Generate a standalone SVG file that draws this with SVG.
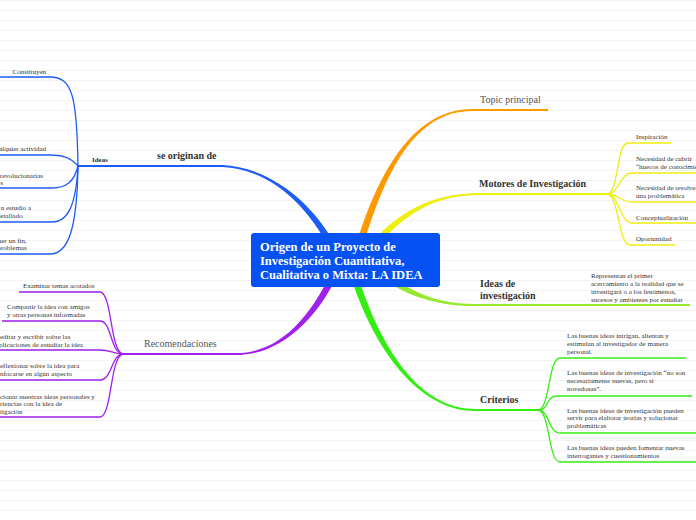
<svg xmlns="http://www.w3.org/2000/svg" width="696" height="520" viewBox="0 0 696 520">
<defs>
<pattern id="grid" width="696" height="10" patternUnits="userSpaceOnUse">
<rect x="0" y="0" width="696" height="1" fill="#f3f3f3"/>
</pattern>
<style>
text{font-family:"Liberation Serif","Times New Roman",serif}
.s{font-size:7px;fill:#333}
.r{font-size:10px;fill:#555}
.b{font-size:10px;font-weight:bold;fill:#333}
.c{font-size:12.5px;font-weight:bold;fill:#fff}
.sub{fill:none;stroke-width:1.3}
.h{fill:none;stroke-width:1.8}
.bl{stroke:#1d5cf5}.pu{stroke:#a020f0}.or{stroke:#ff9900}.ye{stroke:#eeee10}.lg{stroke:#99e830}.gr{stroke:#33ee11}
</style>
</defs>
<rect width="696" height="520" fill="#fff"/>
<rect width="696" height="520" fill="url(#grid)"/>

<g id="connectors">
<path fill="#ff9900" d="M351.6,261.1 C376.6,169.1 415,109 472,109 L472,111 C415,111 383.4,170.9 358.4,262.9 Z"/>
<path class="h or" d="M470,110 H548"/>
<path fill="#eeee10" d="M357.2,259.9 C392.2,212.9 430,193 480,193 L480,195 C430,195 397.8,217.1 362.8,264.1 Z"/>
<path class="h ye" d="M478,194 H607"/>
<path fill="#1d5cf5" d="M343.2,260.6 C318.2,203.6 270,167 222,165 L222,167 C270,169 311.8,206.4 336.8,263.4 Z"/>
<path class="h bl" d="M224,166 H78" stroke-width="2"/>
<path fill="#a020f0" d="M336.8,260.6 C311.8,318.6 280,351 240,353 L240,355 C280,353 318.2,321.4 343.2,263.4 Z"/>
<path class="h pu" d="M242,354 H123"/>
<path fill="#33ee11" d="M346.6,263 C371.6,351 420,411 475,411 L475,409 C420,409 378.4,349 353.4,261 Z"/>
<path class="h gr" d="M473,410 H538"/>
<path fill="#99e830" d="M362.8,264.7 C397.8,292.7 430,306 475,306 L475,304 C430,304 402.2,287.3 367.2,259.3 Z"/>
<path class="h lg" d="M470,305 H690" stroke-width="2"/>

<path class="sub ye" d="M607,194 C619,194 616,143 628,143 H671"/>
<path class="sub ye" d="M607,194 C619,194 620,173 632,173 H696"/>
<path class="sub ye" d="M607,194 C619,194 620,202 632,202 H696"/>
<path class="sub ye" d="M607,194 C619,194 620,223 632,223 H696"/>
<path class="sub ye" d="M607,194 C619,194 618,245 630,245 H675"/>

<path class="sub bl" d="M78,166 C77,95 72,77 50,77 H0"/>
<path class="sub bl" d="M78,166 C70,157 62,155 50,155 H0"/>
<path class="sub bl" d="M78,166 C74,182 66,188 52,188 H0"/>
<path class="sub bl" d="M78,166 C76,205 68,222 52,222 H0"/>
<path class="sub bl" d="M78,166 C77,230 68,254 50,254 H0"/>

<path class="sub pu" d="M123,354 C110,352 112,292 100,292 H19"/>
<path class="sub pu" d="M123,354 C110,353 112,321 100,321 H2"/>
<path class="sub pu" d="M123,354 C112,353 110,350 100,350 H0"/>
<path class="sub pu" d="M123,354 C111,355 112,380 100,380 H0"/>
<path class="sub pu" d="M123,354 C110,356 112,417 100,417 H0"/>

<path class="sub gr" d="M538,410 C550,410 548,358 560,358 H686"/>
<path class="sub gr" d="M538,410 C550,410 545,396 557,396 H692"/>
<path class="sub gr" d="M538,410 C550,410 548,433 560,433 H696"/>
<path class="sub gr" d="M538,410 C550,410 548,462 560,462 H696"/>
</g>

<g id="center">
<rect x="251" y="233" width="189" height="54" rx="3" fill="#0551f2"/>
<text class="c" x="260" y="251">Origen de un Proyecto de</text>
<text class="c" x="260" y="265">Investigación Cuantitativa,</text>
<text class="c" x="260" y="279">Cualitativa o Mixta: LA IDEA</text>
</g>

<g id="topic-principal"><text class="r" x="480" y="102.5">Topic principal</text></g>

<g id="motores"><text class="b" x="479" y="187">Motores de Investigación</text></g>
<g id="inspiracion"><text class="s" x="636" y="138.5">Inspiración</text></g>
<g id="cubrir"><text class="s" x="636" y="160.5">Necesidad de cubrir</text><text class="s" x="636" y="168.5">“huecos de conocimie</text></g>
<g id="resolver"><text class="s" x="636" y="189.5">Necesidad de resolver</text><text class="s" x="636" y="197.5">una problemática</text></g>
<g id="conceptualizacion"><text class="s" x="636" y="219.5">Conceptualización</text></g>
<g id="oportunidad"><text class="s" x="636" y="240.5">Oportunidad</text></g>

<g id="ideas-investigacion">
<text class="b" x="480" y="287">Ideas de</text>
<text class="b" x="480" y="298.5">investigación</text>
</g>
<g id="representan">
<text class="s" x="591" y="277.5">Representan el primer</text>
<text class="s" x="591" y="285.5">acercamiento a la realidad que se</text>
<text class="s" x="591" y="293.5">investigará o a los fenómenos,</text>
<text class="s" x="591" y="301.5">sucesos y ambientes por estudiar</text>
</g>

<g id="criterios"><text class="b" x="480" y="402.5">Criterios</text></g>
<g id="crit1">
<text class="s" x="567" y="337.5">Las buenas ideas intrigan, alientan y</text>
<text class="s" x="567" y="345.7">estimulan al investigador de manera</text>
<text class="s" x="567" y="353.9">personal.</text>
</g>
<g id="crit2">
<text class="s" x="567" y="375">Las buenas ideas de investigación “no son</text>
<text class="s" x="567" y="383.2">necesariamente nuevas, pero sí</text>
<text class="s" x="567" y="391.4">novedosas”.</text>
</g>
<g id="crit3">
<text class="s" x="567" y="412.5">Las buenas ideas de investigación pueden</text>
<text class="s" x="567" y="420.3">servir para elaborar teorías y solucionar</text>
<text class="s" x="567" y="428.1">problemáticas</text>
</g>
<g id="crit4">
<text class="s" x="567" y="450">Las buenas ideas pueden fomentar nuevas</text>
<text class="s" x="567" y="458">interrogantes y cuestionamientos</text>
</g>

<g id="se-originan-de"><text class="b" x="157" y="158.5">se originan de</text></g>
<g id="ideas"><text class="b" x="92" y="161.5" style="font-size:7px">Ideas</text></g>
<g id="constituyen"><text class="s" x="12.5" y="73.5">Constituyen</text></g>
<g id="actividad"><text class="s" x="46" y="150.5" text-anchor="end">alquier actividad</text></g>
<g id="revolucionarias"><text class="s" x="43" y="177.5" text-anchor="end">revolucionarias</text><text class="s" x="3" y="185" text-anchor="end">s</text></g>
<g id="estudio"><text class="s" x="31" y="209.8" text-anchor="end">n estudio a</text><text class="s" x="22.7" y="217.5" text-anchor="end">detallado</text></g>
<g id="fin"><text class="s" x="26.7" y="242.5" text-anchor="end">ner un fin,</text><text class="s" x="26.7" y="250.3" text-anchor="end">problemas</text></g>

<g id="recomendaciones"><text class="r" x="144" y="347">Recomendaciones</text></g>
<g id="examinar"><text class="s" x="23" y="287.5">Examinar temas acotados</text></g>
<g id="compartir"><text class="s" x="7" y="308.5">Compartir la idea con amigos</text><text class="s" x="7" y="316.5">y otras personas informadas</text></g>
<g id="meditar"><text class="s" x="0" y="338.5">editar y escribir sobre las</text><text class="s" x="-1" y="346.5">plicaciones de estudiar la idea</text></g>
<g id="reflexionar"><text class="s" x="0" y="367.5">eflexionar sobre la idea para</text><text class="s" x="0" y="375.5">nfocarse en algún aspecto</text></g>
<g id="relacionar"><text class="s" x="0" y="398.5">cionar nuestras ideas personales y</text><text class="s" x="0" y="406">riencias con la idea de</text><text class="s" x="0" y="413.5">tigación</text></g>
</svg>
